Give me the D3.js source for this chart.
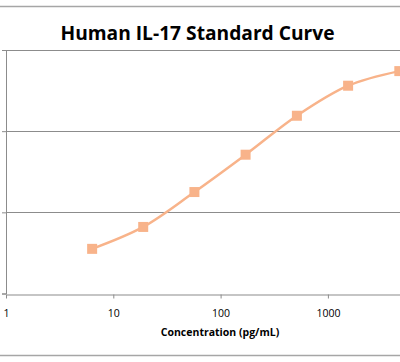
<!DOCTYPE html>
<html>
<head>
<meta charset="utf-8">
<script src="https://cdn.jsdelivr.net/npm/d3@7"></script>
<style>
  body { margin: 0; background: #fff; }
  svg { display: block; font-family: "Open Sans", "Liberation Sans", sans-serif; }
</style>
</head>
<body>
<script>
// standard curve data (3-fold dilutions)
const concentrations = [6.35, 19, 57, 171, 514, 1543, 4630];
const odValues = [0.55, 0.82, 1.25, 1.71, 2.19, 2.56, 2.74];
const xTicks = [1, 10, 100, 1000];
const yTicks = [0, 1, 2, 3];

const width = 400;
const height = 362;
const margin = ({top: 50, right: 0, bottom: 68.5, left: 6});
const lineColor = '#F8B38A';

const svg = d3.select("body").append("svg")
  .attr("width", width)
  .attr("height", height);

// log x scale: 1 at x=6, decade ~107.3px
let x = d3.scaleLog()
  .domain([1, Math.pow(10, (width - margin.left) / 107.3)])
  .range([margin.left, width]);

let y = d3.scaleLinear()
  .domain([0, 3])
  .range([height - margin.bottom, margin.top]);

// chart area border lines (top/bottom of the cropped frame)
svg.append("line")
  .attr("x1", 0).attr("x2", width)
  .attr("y1", 6.5).attr("y2", 6.5)
  .attr("stroke", "#a6a6a6").attr("stroke-width", 1.5);
svg.append("line")
  .attr("x1", 0).attr("x2", width)
  .attr("y1", 355.5).attr("y2", 355.5)
  .attr("stroke", "#a6a6a6").attr("stroke-width", 1.5);

// title
svg.append("text")
  .attr("x", 197.5)
  .attr("y", 39.5)
  .attr("text-anchor", "middle")
  .attr("font-size", 19.2)
  .attr("font-weight", "bold")
  .attr("fill", "#000")
  .text("Human IL-17 Standard Curve");

// gridlines
svg.append("g")
  .selectAll("line")
  .data(yTicks.slice(1))
  .join("line")
    .attr("x1", margin.left)
    .attr("x2", width)
    .attr("y1", d => Math.round(y(d)) + 0.5)
    .attr("y2", d => Math.round(y(d)) + 0.5)
    .attr("stroke", "#8c8c8c")
    .attr("stroke-width", 1);

// y axis (labels cropped off in reference)
let yAxis = g => g
  .attr("transform", `translate(${margin.left},0)`)
  .call(d3.axisLeft(y).tickValues(yTicks).tickSize(4).tickFormat(""))
  .call(g => g.select(".domain").attr("stroke", "#8c8c8c"))
  .call(g => g.selectAll(".tick line").attr("stroke", "#8c8c8c"));

let xAxis = g => g
  .attr("transform", `translate(0,${Math.round(y(0)) + 0.5})`)
  .call(d3.axisBottom(x).tickValues(xTicks).tickFormat(d3.format("d")).tickSize(4).tickPadding(11).tickSizeOuter(0))
  .call(g => g.select(".domain").attr("stroke", "#8c8c8c").attr("stroke-width", 1.2))
  .call(g => g.selectAll(".tick line").attr("stroke", "#8c8c8c"))
  .call(g => g.selectAll(".tick text").attr("font-size", 10.5).attr("fill", "#000")
    .attr("font-family", "'Open Sans', sans-serif"));

svg.append("g").call(yAxis);
svg.append("g").call(xAxis);

// axis title
svg.append("text")
  .attr("x", 220)
  .attr("y", 336)
  .attr("text-anchor", "middle")
  .attr("font-size", 10.5)
  .attr("font-weight", "bold")
  .attr("fill", "#000")
  .text("Concentration (pg/mL)");

const data = concentrations.map((c, i) => ({c: c, v: odValues[i]}));

const line = d3.line()
  .x(d => x(d.c))
  .y(d => y(d.v))
  .curve(d3.curveCatmullRom.alpha(0.5));

svg.append("path")
  .datum(data)
  .attr("fill", "none")
  .attr("stroke", lineColor)
  .attr("stroke-width", 2.5)
  .attr("d", line);

const size = 10;
svg.append("g")
  .selectAll("rect")
  .data(data)
  .join("rect")
    .attr("x", d => x(d.c) - size / 2)
    .attr("y", d => y(d.v) - size / 2)
    .attr("width", size)
    .attr("height", size)
    .attr("fill", lineColor);
</script>
</body>
</html>
